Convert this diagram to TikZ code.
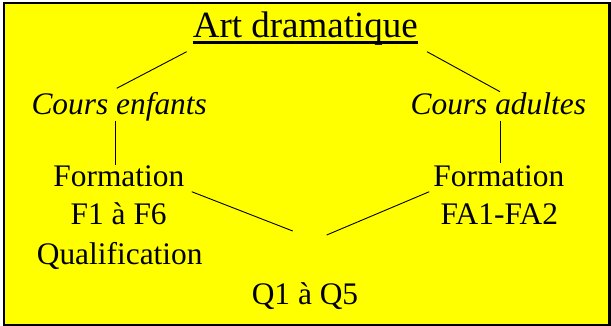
\documentclass[tikz,border=0pt]{standalone}
\usepackage{fontspec}
\setmainfont{Liberation Serif}
\definecolor{bgyellow}{RGB}{255,255,0}
\begin{document}
\begin{tikzpicture}[x=1pt,y=-1pt,
  lbl/.style={inner sep=0pt, anchor=base, font=\fontsize{31.4}{36}\selectfont},
  itlbl/.style={lbl, font=\fontsize{31.4}{36}\selectfont\itshape},
  ttl/.style={inner sep=0pt, anchor=base, font=\fontsize{37}{44}\selectfont},
  conn/.style={line width=0.9pt}]
\useasboundingbox (0,0) rectangle (611,326);
\fill[white] (0,0) rectangle (611,326);
\draw[line width=2.5pt, fill=bgyellow] (4,3) rectangle (609.5,325);

\node[ttl] (title) at (305.3,37.3) {Art dramatique};
\draw[line width=2.2pt] ([yshift=-5.2pt]title.base west) -- ([yshift=-5.2pt]title.base east);

\node[itlbl] (ce) at (119.2,114.3) {Cours enfants};
\node[itlbl] (ca) at (498.3,114.3) {Cours adultes};
\node[lbl] (fe) at (118.8,186.7) {Formation};
\node[lbl] (fe2) at (118.7,224.3) {F1 à F6};
\node[lbl] (qual) at (119.7,265) {Qualification};
\node[lbl] (fa) at (498.8,186.7) {Formation};
\node[lbl] (fa2) at (499.3,224.3) {FA1-FA2};
\node[lbl] (q) at (305,304) {Q1 à Q5};

\coordinate (t1) at (186.7,51.7);
\coordinate (ce1) at (116.7,88.3);
\coordinate (t2) at (427,51.7);
\coordinate (ca1) at (500,91.7);
\coordinate (ce2) at (115.7,120.7);
\coordinate (fe1) at (115.7,165);
\coordinate (ca2) at (500.7,120.7);
\coordinate (fa1) at (500.7,163.3);
\coordinate (fe3) at (191.7,191.7);
\coordinate (q1) at (292.7,231);
\coordinate (fa3) at (429.3,191.7);
\coordinate (q2) at (326.7,235);

\draw[conn] (t1) -- (ce1);
\draw[conn] (t2) -- (ca1);
\draw[conn] (ce2) -- (fe1);
\draw[conn] (ca2) -- (fa1);
\draw[conn] (fe3) -- (q1);
\draw[conn] (fa3) -- (q2);
\end{tikzpicture}
\end{document}
